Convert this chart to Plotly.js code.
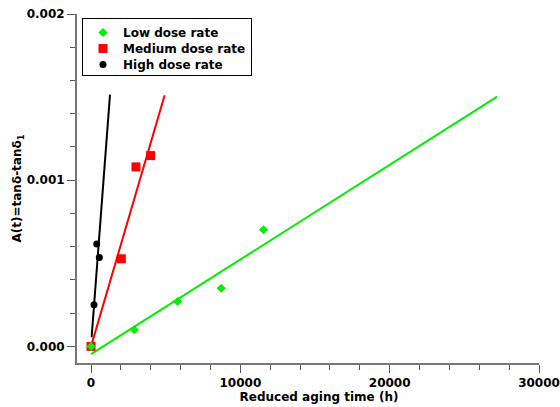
<!DOCTYPE html>
<html>
<head>
<meta charset="utf-8">
<script src="https://cdn.plot.ly/plotly-3.0.1.min.js"></script>
<style>html,body{margin:0;padding:0;background:#fff;}#chart{width:560px;height:407px;}</style>
</head>
<body>
<div id="chart"></div>
<script>
// Data
const lowX = [0, 2900, 5800, 8720, 11550];
const lowY = [0, 0.000100, 0.000270, 0.000350, 0.000702];
const medX = [0, 2030, 3010, 3990];
const medY = [0, 0.000527, 0.001080, 0.001148];
const highX = [200, 380, 555];
const highY = [0.000250, 0.000616, 0.000535];

// Fitted lines (end points)
const lowFitX = [0, 27200];
const lowFitY = [-0.000047, 0.001503];
const medFitX = [0, 4930];
const medFitY = [0, 0.001511];
const highFitX = [40, 1270];
const highFitY = [0.000055, 0.001515];

const seriesNames = ["Low dose rate", "Medium dose rate", "High dose rate"];
const colors = ["#00ee00", "#ff0000", "#000000"];

const xTickVals = [0, 10000, 20000, 30000];
const yTickVals = [0, 0.001, 0.002];

const font = {family: "DejaVu Sans, Verdana, sans-serif", size: 12, color: "#000", weight: "bold"};

const traces = [
  {x: lowFitX, y: lowFitY, mode: "lines", line: {color: colors[0], width: 2}, showlegend: false, hoverinfo: "skip"},
  {x: medFitX, y: medFitY, mode: "lines", line: {color: colors[1], width: 2}, showlegend: false, hoverinfo: "skip"},
  {x: highFitX, y: highFitY, mode: "lines", line: {color: colors[2], width: 2}, showlegend: false, hoverinfo: "skip"},
  {x: medX, y: medY, mode: "markers", name: seriesNames[1], legendrank: 2,
   marker: {symbol: "square", size: 9, color: colors[1]}},
  {x: lowX, y: lowY, mode: "markers", name: seriesNames[0], legendrank: 1,
   marker: {symbol: "diamond", size: 7, color: colors[0]}},
  {x: highX, y: highY, mode: "markers", name: seriesNames[2], legendrank: 3,
   marker: {symbol: "circle", size: 7, color: colors[2]}}
];

const layout = {
  width: 560, height: 407,
  margin: {l: 77, r: 21, t: 14, b: 44},
  paper_bgcolor: "#fff", plot_bgcolor: "#fff",
  font: font,
  showlegend: true,
  legend: {x: 0.0108, y: 0.9885, xanchor: "left", yanchor: "top",
           bordercolor: "#000", borderwidth: 1, bgcolor: "#fff", font: font},
  xaxis: {
    range: [-940, 30000], showgrid: false, zeroline: false,
    showline: true, linecolor: "#777", linewidth: 2,
    ticks: "outside", ticklen: 8, tickcolor: "#555", tickwidth: 1,
    tickvals: xTickVals, tickformat: "d",
    minor: {dtick: 2000, tick0: 0, ticks: "outside", ticklen: 5, tickcolor: "#555", tickwidth: 1, showgrid: false},
    title: {text: "Reduced aging time (h)", font: font, standoff: 2},
    automargin: false
  },
  yaxis: {
    range: [-0.0001, 0.002], showgrid: false, zeroline: false,
    showline: true, linecolor: "#777", linewidth: 2,
    ticks: "outside", ticklen: 8, tickcolor: "#555", tickwidth: 1,
    tickvals: yTickVals, tickformat: ".3f",
    minor: {dtick: 0.0002, tick0: 0, ticks: "outside", ticklen: 5, tickcolor: "#555", tickwidth: 1, showgrid: false},
    title: {text: "A(t)=tanδ-tanδ<sub>1</sub>", font: font, standoff: 2},
    automargin: false
  }
};

Plotly.newPlot("chart", traces, layout, {displayModeBar: false, staticPlot: true}).then(function (gd) {
  // Tighten legend row spacing to match the reference (16px rows)
  const items = gd.querySelectorAll(".legend .traces");
  let y0 = null;
  items.forEach(function (g, i) {
    const m = /translate\(\s*([-\d.]+)[ ,]+([-\d.]+)\s*\)/.exec(g.getAttribute("transform") || "");
    if (!m) return;
    const x = parseFloat(m[1]);
    if (y0 === null) y0 = parseFloat(m[2]) - 1;
    g.setAttribute("transform", "translate(" + x + "," + (y0 + i * 16) + ")");
  });
  const bg = gd.querySelector(".legend .bg");
  if (bg) bg.setAttribute("height", 57);
  // Shift x-axis title slightly right, as in the reference
  const xt = gd.querySelector(".xtitle");
  if (xt) {
    const xv = parseFloat(xt.getAttribute("x"));
    if (!isNaN(xv)) xt.setAttribute("x", xv + 11);
  }
});
</script>
</body>
</html>
